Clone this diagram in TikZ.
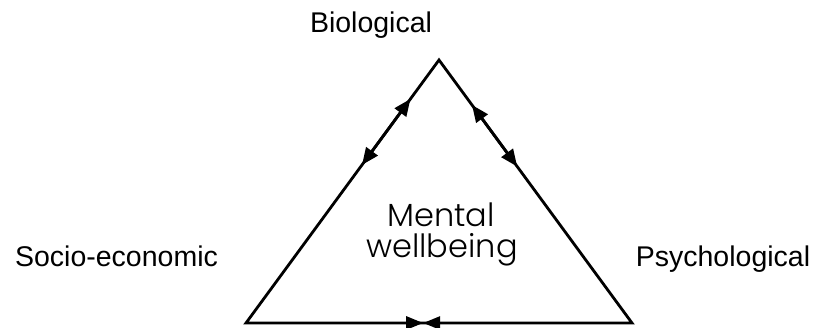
\documentclass[tikz,border=0pt]{standalone}
\usepackage{fontspec}
\setmainfont{Liberation Sans}
\newfontfamily\geofont{Poppins Light}
\usetikzlibrary{arrows.meta,calc}
\begin{document}
\begin{tikzpicture}[x=1pt,y=-1pt,
  edge/.style={line width=2.8pt,line join=miter},
  twoway/.style={line width=2.8pt,{Triangle[length=17pt,width=14pt]}-{Triangle[length=17pt,width=14pt]}},
  inward/.style={line width=2.8pt,-{Triangle[length=17pt,width=13pt]}},
  factor/.style={font=\fontsize{28.5}{34}\selectfont,inner sep=0pt,anchor=base},
  centre/.style={font=\geofont\fontsize{32}{31}\selectfont,inner sep=0pt,anchor=base}]
\useasboundingbox (0,0) rectangle (814,328);
% triangle corners
\coordinate (B) at (439,60);
\coordinate (S) at (246,323);
\coordinate (P) at (632,323);
\draw[edge] (S) -- (B) -- (P) -- cycle;
% two-way links on the upper sides
\coordinate (l1) at ($(S)!0.852!(B)$);
\coordinate (l2) at ($(S)!0.601!(B)$);
\coordinate (r1) at ($(B)!0.171!(P)$);
\coordinate (r2) at ($(B)!0.405!(P)$);
\coordinate (m) at ($(S)!0.459!(P)$);
\draw[twoway] (l2) -- (l1);
\draw[twoway] (r1) -- (r2);
% arrows meeting on the base
\draw[inward] (S) -- (m);
\draw[inward] (P) -- (m);
% labels
\node[factor] (bio) at (371,33) {Biological};
\node[factor] (soc) at (116.5,267) {Socio-economic};
\node[factor] (psy) at (723,267) {Psychological};
\node[centre] (mw1) at (441,227) {Mental};
\node[centre] (mw2) at (442,258) {wellbeing};
\end{tikzpicture}
\end{document}
